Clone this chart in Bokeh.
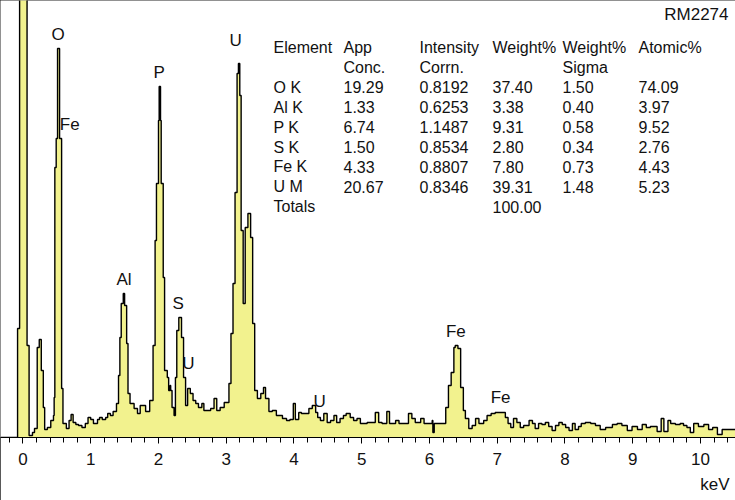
import numpy as np
from bokeh.plotting import figure
from bokeh.models import Range1d, SingleIntervalTicker, Label, Title, ColumnDataSource
from bokeh.core.properties import value
from bokeh.embed import file_html
from bokeh.resources import INLINE

# ---- spectrum (step data: each count holds from its energy to the next one) ----
energy_kev = [
    -0.33, -0.08, -0.05, 0.06, 0.09, 0.14, 0.17, 0.21, 0.24, 0.27, 0.30, 0.32, 0.36, 0.41, 0.45,
    0.46, 0.47, 0.49, 0.51, 0.54, 0.57, 0.59, 0.64, 0.68, 0.71, 0.74, 0.78, 0.82, 0.87, 0.92,
    0.96, 1.00, 1.04, 1.10, 1.13, 1.17, 1.22, 1.25, 1.29, 1.33, 1.38, 1.41, 1.43, 1.45, 1.48,
    1.50, 1.53, 1.55, 1.58, 1.64, 1.69, 1.73, 1.81, 1.87, 1.92, 1.95, 1.97, 2.00, 2.01, 2.03,
    2.04, 2.07, 2.09, 2.13, 2.15, 2.17, 2.18, 2.20, 2.23, 2.25, 2.27, 2.30, 2.34, 2.37, 2.40,
    2.43, 2.47, 2.51, 2.55, 2.59, 2.64, 2.67, 2.77, 2.82, 2.86, 2.91, 2.97, 3.04, 3.07, 3.10,
    3.13, 3.16, 3.18, 3.20, 3.22, 3.25, 3.28, 3.32, 3.36, 3.39, 3.42, 3.46, 3.51, 3.55, 3.58,
    3.63, 3.68, 3.74, 3.83, 3.89, 3.94, 3.99, 4.02, 4.07, 4.11, 4.22, 4.27, 4.32, 4.35, 4.39,
    4.44, 4.49, 4.54, 4.59, 4.63, 4.68, 4.73, 4.77, 4.83, 4.88, 4.93, 4.98, 5.08, 5.20, 5.25,
    5.30, 5.37, 5.41, 5.50, 5.55, 5.69, 5.74, 5.79, 5.87, 5.92, 6.04, 6.05, 6.07, 6.24, 6.28,
    6.32, 6.36, 6.38, 6.42, 6.46, 6.50, 6.53, 6.58, 6.63, 6.68, 6.73, 6.80, 6.85, 6.91, 6.97,
    7.12, 7.16, 7.20, 7.24, 7.29, 7.34, 7.39, 7.47, 7.52, 7.56, 7.61, 7.66, 7.71, 7.76, 7.81,
    7.86, 7.91, 7.96, 8.01, 8.06, 8.11, 8.15, 8.20, 8.24, 8.30, 8.38, 8.45, 8.52, 8.60, 8.70,
    8.77, 8.84, 8.92, 8.99, 9.07, 9.14, 9.20, 9.26, 9.36, 9.42, 9.46, 9.52, 9.56, 9.63, 9.70,
    9.75, 9.80, 9.85, 9.90, 9.97, 10.05, 10.12, 10.18, 10.25, 10.32, 10.39,
]
counts = [
    0, 109, 1500, 92, 2, 5, 9, 90, 98, 67, 30, 8, 10, 17, 22,
    40, 270, 299, 389, 299, 49, 14, 9, 17, 23, 15, 13, 12, 10, 14,
    20, 18, 14, 18, 20, 18, 20, 24, 22, 26, 34, 62, 100, 134, 144,
    132, 94, 44, 34, 29, 24, 32, 26, 37, 92, 197, 254, 317, 351, 317,
    254, 160, 67, 60, 47, 52, 47, 30, 22, 60, 107, 120, 100, 60, 32,
    49, 44, 37, 34, 30, 34, 27, 29, 39, 27, 30, 35, 54, 104, 154,
    245, 364, 374, 342, 207, 134, 210, 224, 200, 114, 47, 39, 44, 50, 39,
    26, 27, 22, 19, 17, 18, 34, 18, 25, 24, 29, 32, 25, 20, 17,
    24, 15, 17, 22, 15, 19, 22, 24, 20, 17, 19, 14, 15, 25, 15,
    14, 26, 14, 17, 14, 24, 19, 15, 19, 14, 17, 5, 14, 30, 52,
    65, 90, 92, 89, 50, 27, 19, 9, 12, 19, 14, 17, 22, 24, 25,
    20, 14, 10, 19, 15, 10, 12, 17, 14, 9, 14, 13, 15, 11, 7,
    12, 15, 13, 10, 7, 14, 8, 11, 14, 15, 14, 12, 8, 10, 13,
    14, 12, 7, 11, 8, 13, 10, 11, 6, 19, 6, 17, 14, 13, 14,
    12, 10, 5, 14, 11, 13, 8, 10, 3, 8, 8,
]
energy_end = 10.52

# ---- peak identification labels ----
peak_names = ["O", "Fe", "P", "U", "Al", "S", "U", "U", "Fe", "Fe"]
peak_kev = [0.52, 0.69, 2.01, 3.14, 1.49, 2.29, 2.44, 4.38, 6.39, 7.05]
peak_label_counts = [403, 313, 365, 397, 158, 134, 74, 36, 106, 40]

# ---- quantification table ----
header_line1 = ["Element", "App", "Intensity", "Weight%", "Weight%", "Atomic%"]
header_line2 = ["", "Conc.", "Corrn.", "", "Sigma", ""]
elements = ["O K", "Al K", "P K", "S K", "Fe K", "U M"]
app_conc = ["19.29", "1.33", "6.74", "1.50", "4.33", "20.67"]
intensity_corrn = ["0.8192", "0.6253", "1.1487", "0.8534", "0.8807", "0.8346"]
weight_pct = ["37.40", "3.38", "9.31", "2.80", "7.80", "39.31"]
weight_sigma = ["1.50", "0.40", "0.58", "0.34", "0.73", "1.48"]
atomic_pct = ["74.09", "3.97", "9.52", "2.76", "4.43", "5.23"]
totals_label = "Totals"
totals_weight = "100.00"
sample_name = "RM2274"

# ---- layout constants (pixels) ----
W, H = 735, 500
FRAME_H = 437
FONT = "Liberation Sans"
TXT = "#111111"
col_x = [273, 343, 419, 492, 562, 638]
row0_y, row_pitch = 47, 19.9

p = figure(width=W, height=H, x_range=Range1d(-0.332, 10.517), y_range=Range1d(0, FRAME_H),
           output_backend="svg", toolbar_location=None, y_axis_location=None,
           min_border=0, min_border_left=0, min_border_right=0, min_border_top=0,
           min_border_bottom=H - FRAME_H)
p.grid.visible = False
p.background_fill_color = "white"
p.border_fill_color = "white"
p.outline_line_color = None
p.styles = {"outline": "1px solid #222222", "outline-offset": "-1px"}

ax = p.xaxis[0]
ax.ticker = SingleIntervalTicker(interval=1, num_minor_ticks=5)
ax.axis_line_color = "black"
ax.axis_line_width = 1.2
ax.major_tick_in = 0
ax.major_tick_out = 6
ax.minor_tick_in = 0
ax.minor_tick_out = 5
ax.major_tick_line_color = "black"
ax.minor_tick_line_color = "black"
ax.major_label_text_font = FONT
ax.major_label_text_font_size = "17px"
ax.major_label_text_color = TXT
ax.major_label_standoff = 9

p.add_layout(Title(text="keV", align="right", text_font=FONT, text_font_size="17px",
                   text_font_style="normal", text_color=TXT, standoff=11, offset=6), "below")

# spectrum as filled steps
edges = np.array(energy_kev + [energy_end])
xs = np.repeat(edges, 2)[1:-1]
ys = np.repeat(np.array(counts, dtype=float), 2)
p.varea(x=xs, y1=np.zeros_like(ys), y2=ys, fill_color="#f2f28e")
p.line(xs, ys, line_color="black", line_width=1.4)

# peak labels
src = ColumnDataSource(dict(x=peak_kev, y=peak_label_counts, t=peak_names))
p.text(x="x", y="y", text="t", source=src, text_align="center", text_baseline="middle",
       text_font=value(FONT), text_font_size="17px", text_color=TXT)

def put(txt, px, py, align="left", size="16px"):
    if txt == "":
        return
    p.add_layout(Label(x=px, y=FRAME_H - py, x_units="screen", y_units="screen", text=txt,
                       text_align=align, text_baseline="middle", text_font=FONT,
                       text_font_size=size, text_color=TXT))

for i in range(6):
    put(header_line1[i], col_x[i], row0_y)
    put(header_line2[i], col_x[i], row0_y + row_pitch)
columns = [elements, app_conc, intensity_corrn, weight_pct, weight_sigma, atomic_pct]
for r in range(len(elements)):
    for c in range(6):
        put(columns[c][r], col_x[c], row0_y + row_pitch * (r + 2))
put(totals_label, col_x[0], row0_y + row_pitch * 8)
put(totals_weight, col_x[3], row0_y + row_pitch * 8)
put(sample_name, 728, 14, align="right", size="17px")

open("out.html", "w").write(file_html(p, INLINE))
